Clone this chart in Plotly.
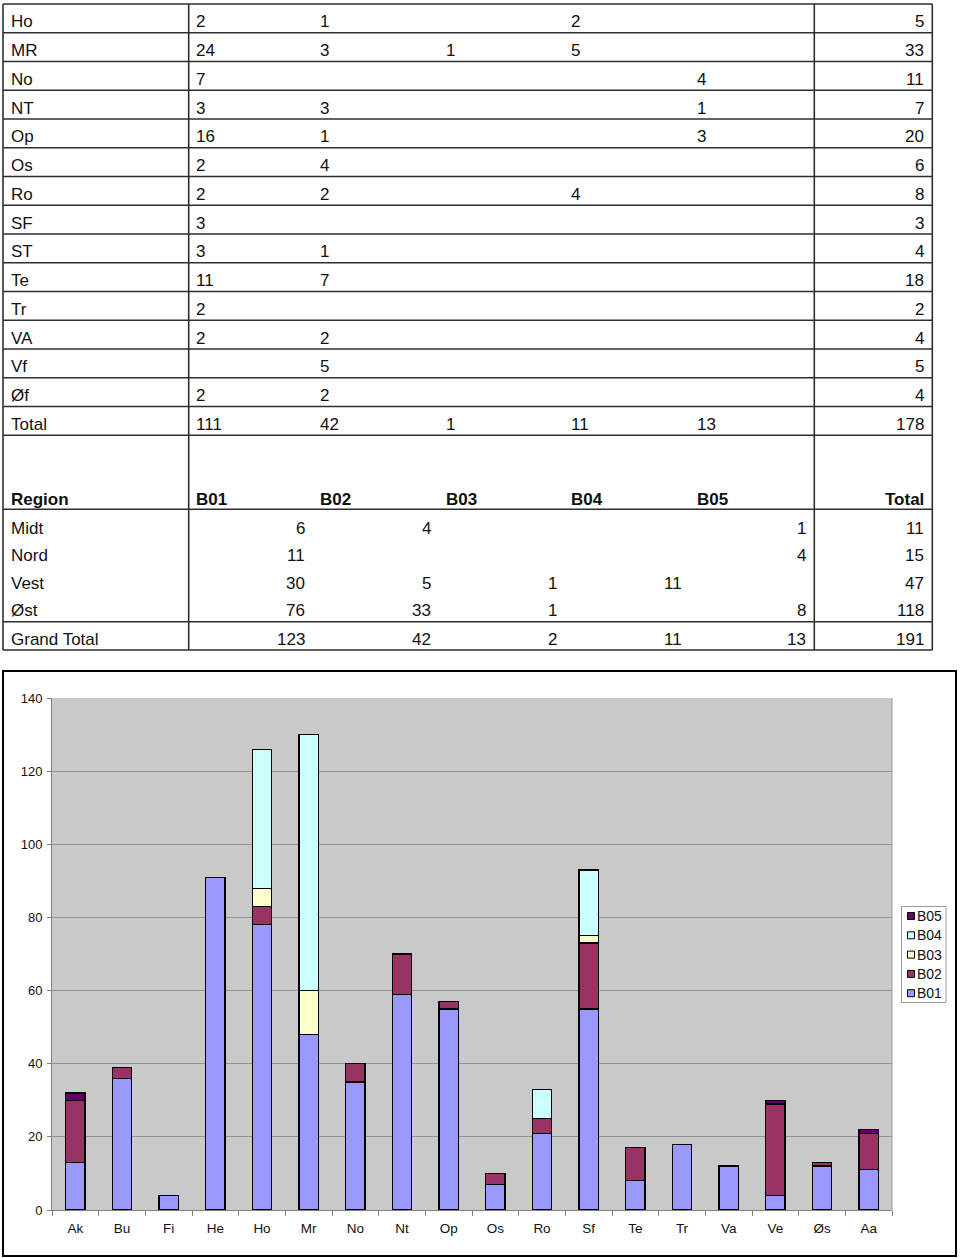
import plotly.graph_objects as go

W, H = 960, 1258

# ---------------- data ----------------
categories = ["Ak", "Bu", "Fi", "He", "Ho", "Mr", "No", "Nt", "Op", "Os",
              "Ro", "Sf", "Te", "Tr", "Va", "Ve", "Øs", "Aa"]
series_names = ["B01", "B02", "B03", "B04", "B05"]
b01 = [13, 36, 4, 91, 78, 48, 35, 59, 55, 7, 21, 55, 8, 18, 12, 4, 12, 11]
b02 = [17, 3, 0, 0, 5, 0, 5, 11, 2, 3, 4, 18, 9, 0, 0, 25, 1, 10]
b03 = [0, 0, 0, 0, 5, 12, 0, 0, 0, 0, 0, 2, 0, 0, 0, 0, 0, 0]
b04 = [0, 0, 0, 0, 38, 70, 0, 0, 0, 0, 8, 18, 0, 0, 0, 0, 0, 0]
b05 = [2, 0, 0, 0, 0, 0, 0, 0, 0, 0, 0, 0, 0, 0, 0, 1, 0, 1]
series_values = [b01, b02, b03, b04, b05]
series_colors = ["#9999FF", "#993366", "#FFFFCC", "#CCFFFF", "#660066"]
y_ticks = [0, 20, 40, 60, 80, 100, 120, 140]

# upper table (partially visible)
t1_rows = ["Ho", "MR", "No", "NT", "Op", "Os", "Ro", "SF", "ST", "Te", "Tr",
           "VA", "Vf", "Øf", "Total"]
t1_b01 = ["2", "24", "7", "3", "16", "2", "2", "3", "3", "11", "2", "2", "", "2", "111"]
t1_b02 = ["1", "3", "", "3", "1", "4", "2", "", "1", "7", "", "2", "5", "2", "42"]
t1_b03 = ["", "1", "", "", "", "", "", "", "", "", "", "", "", "", "1"]
t1_b04 = ["2", "5", "", "", "", "", "4", "", "", "", "", "", "", "", "11"]
t1_b05 = ["", "", "4", "1", "3", "", "", "", "", "", "", "", "", "", "13"]
t1_total = ["5", "33", "11", "7", "20", "6", "8", "3", "4", "18", "2", "4", "5", "4", "178"]

# region pivot table
t2_header = ["Region", "B01", "B02", "B03", "B04", "B05", "Total"]
t2_rows = ["Midt", "Nord", "Vest", "Øst", "Grand Total"]
t2_b01 = ["6", "11", "30", "76", "123"]
t2_b02 = ["4", "", "5", "33", "42"]
t2_b03 = ["", "", "1", "1", "2"]
t2_b04 = ["", "", "11", "", "11"]
t2_b05 = ["1", "4", "", "8", "13"]
t2_total = ["11", "15", "47", "118", "191"]

# ---------------- helpers ----------------
def px(x):
    return x / W

def py(y):
    return (H - y) / H

FONT = "Liberation Sans, Arial, sans-serif"
LINE = "#2e2e2e"

fig = go.Figure()
for name, vals, col in zip(series_names, series_values, series_colors):
    fig.add_trace(go.Bar(
        x=categories, y=[v if v else None for v in vals], name=name,
        marker=dict(color=col, line=dict(color="black", width=1.3)),
        showlegend=False,
    ))

shapes = []
annotations = []

def hline(y, x0, x1, color=LINE, width=1.6):
    shapes.append(dict(type="line", xref="paper", yref="paper",
                       x0=px(x0), x1=px(x1), y0=py(y), y1=py(y),
                       line=dict(color=color, width=width)))

def vline(x, y0, y1, color=LINE, width=1.6):
    shapes.append(dict(type="line", xref="paper", yref="paper",
                       x0=px(x), x1=px(x), y0=py(y0), y1=py(y1),
                       line=dict(color=color, width=width)))

def text(t, x, y, anchor="left", size=17, bold=False):
    if t == "":
        return
    annotations.append(dict(text=f"<b>{t}</b>" if bold else t,
                            xref="paper", yref="paper", x=px(x), y=py(y),
                            xanchor=anchor, yanchor="middle", showarrow=False,
                            font=dict(family=FONT, size=size, color="#111111"),
                            borderpad=0))

# ---- upper table ----
TL, C1, C2, TR = 3, 188.7, 814.3, 932.3
top0, rh = 4, 28.75
for k in range(len(t1_rows) + 1):
    hline(top0 + rh * k, TL, TR)
col_left = [196, 320, 446, 571, 697]
for i, name in enumerate(t1_rows):
    yc = top0 + rh * i + 17.8
    text(name, 10, yc)
    for cx, col in zip(col_left, [t1_b01, t1_b02, t1_b03, t1_b04, t1_b05]):
        text(col[i], cx - 1, yc)
    text(t1_total[i], 925, yc, anchor="right")

# ---- region table ----
hdr_bottom = 509.3
hdr_c = 499
hline(hdr_bottom, TL, TR)
row_c = [528, 555.7, 583, 610.7, 639]
hline(621.7, TL, TR)
hline(650, TL, TR)
for x in (TL, C1, C2, TR):
    vline(x, top0, 650)
text(t2_header[0], 10, hdr_c, bold=True)
for cx, h in zip(col_left, t2_header[1:6]):
    text(h, cx - 1, hdr_c, bold=True)
text(t2_header[6], 925, hdr_c, anchor="right", bold=True)
col_right = [305, 431, 557, 682, 806]
for i, name in enumerate(t2_rows):
    text(name, 10, row_c[i])
    for cx, col in zip(col_right, [t2_b01, t2_b02, t2_b03, t2_b04, t2_b05]):
        text(col[i], cx + 1, row_c[i], anchor="right")
    text(t2_total[i], 925, row_c[i], anchor="right")

# ---- chart frame ----
shapes.append(dict(type="rect", xref="paper", yref="paper",
                   x0=px(3), x1=px(956), y0=py(671), y1=py(1256),
                   line=dict(color="black", width=2), layer="below"))
# plot-area right border
shapes.append(dict(type="line", xref="x domain", yref="y domain",
                   x0=1, x1=1, y0=0, y1=1, line=dict(color="#9a9a9a", width=1)))

# ---- legend (manual, reversed order like the reference) ----
shapes.append(dict(type="rect", xref="paper", yref="paper",
                   x0=px(901.5), x1=px(946), y0=py(906.5), y1=py(1002.5),
                   line=dict(color="#9a9a9a", width=1), fillcolor="white"))
leg_y0, leg_dy = 916, 19.3
for j, (name, col) in enumerate(reversed(list(zip(series_names, series_colors)))):
    yc = leg_y0 + leg_dy * j
    shapes.append(dict(type="rect", xref="paper", yref="paper",
                       x0=px(907.5), x1=px(914.5), y0=py(yc - 3.5), y1=py(yc + 3.5),
                       line=dict(color="black", width=1), fillcolor=col))
    text(name, 915.5, yc, size=14)

fig.update_layout(
    barmode="stack", bargap=0.58,
    width=W, height=H,
    margin=dict(l=0, r=0, t=0, b=0, autoexpand=False),
    paper_bgcolor="white", plot_bgcolor="#C9C9C9",
    font=dict(family=FONT, color="black", size=13),
    shapes=shapes, annotations=annotations,
    showlegend=False,
)
fig.update_xaxes(
    domain=[px(52), px(892)], type="category",
    showline=True, linecolor="#808080", linewidth=1,
    ticks="outside", tickson="boundaries", ticklen=5, tickcolor="#808080",
    tickfont=dict(size=13.5, color="#111111"), ticklabelstandoff=6,
    showgrid=False, zeroline=False, fixedrange=True,
)
fig.update_yaxes(
    domain=[py(1210), py(698)], range=[0, 140], tickvals=y_ticks,
    showline=True, linecolor="#808080", linewidth=1,
    ticks="outside", ticklen=4, tickcolor="#808080",
    tickfont=dict(size=13, color="#111111"), ticklabelstandoff=2,
    showgrid=True, gridcolor="#929292", gridwidth=1, zeroline=False,
)

fig.write_html("out.html")
